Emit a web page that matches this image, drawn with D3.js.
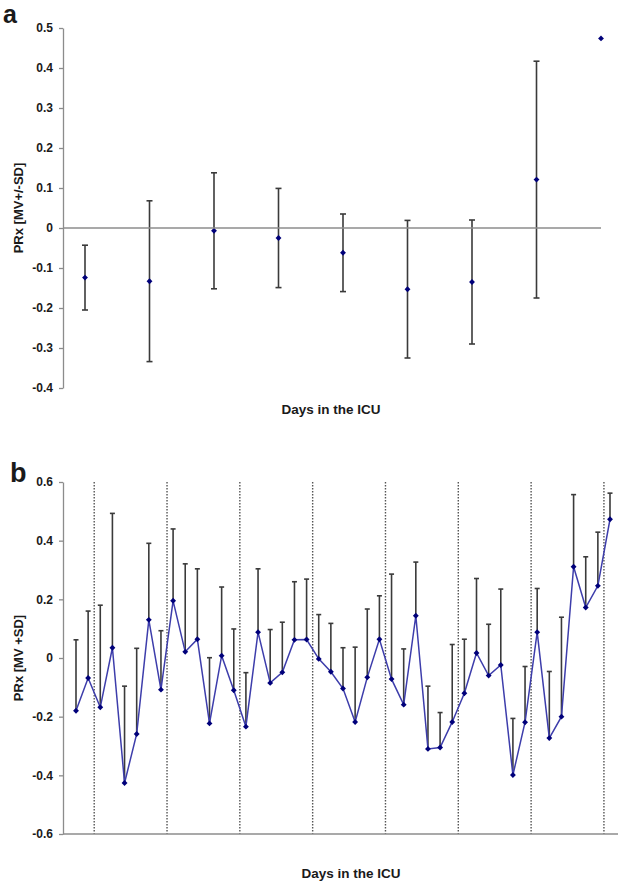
<!DOCTYPE html>
<html>
<head>
<meta charset="utf-8">
<script src="https://cdn.jsdelivr.net/npm/d3@7"></script>
<style>
  html, body { margin: 0; padding: 0; background: #fff; }
  svg { display: block; }
  text { font-family: "Liberation Sans", Arial, sans-serif; font-weight: bold; fill: #1a1a1a; }
</style>
</head>
<body>
<svg id="chart" width="618" height="882"></svg>
<script>
// Panel a: mean PRx per ICU day, with +/- SD (last day has no SD)
const aDays  = [1, 2, 3, 4, 5, 6, 7, 8, 9];
const aMean  = [-0.124, -0.133, -0.007, -0.025, -0.062, -0.153, -0.135, 0.121, 0.474];
const aSD    = [0.081, 0.201, 0.145, 0.124, 0.097, 0.172, 0.155, 0.296, null];
const aTicks = [0.5, 0.4, 0.3, 0.2, 0.1, 0, -0.1, -0.2, -0.3, -0.4];

// Panel b: PRx per measurement (6 per day), mean with +SD
const bMean = [
  -0.180, -0.068, -0.168, 0.035, -0.426, -0.259, 0.130, -0.108, 0.195, 0.021,
   0.064, -0.223, 0.008, -0.110, -0.234, 0.088, -0.085, -0.049, 0.062, 0.063,
  -0.003, -0.047, -0.104, -0.218, -0.066, 0.064, -0.072, -0.159, 0.144, -0.310,
  -0.305, -0.218, -0.120, 0.017, -0.060, -0.024, -0.399, -0.219, 0.088, -0.273,
  -0.200, 0.311, 0.172, 0.246, 0.473
];
const bSD = [
  0.242, 0.228, 0.348, 0.458, 0.330, 0.292, 0.261, 0.201, 0.245, 0.300,
  0.240, 0.224, 0.234, 0.209, 0.184, 0.216, 0.182, 0.171, 0.198, 0.206,
  0.151, 0.165, 0.139, 0.255, 0.233, 0.148, 0.358, 0.190, 0.183, 0.214,
  0.119, 0.264, 0.184, 0.254, 0.175, 0.259, 0.193, 0.190, 0.149, 0.227,
  0.339, 0.246, 0.173, 0.183, 0.089
];
const bTicks = [0.6, 0.4, 0.2, 0, -0.2, -0.4, -0.6];
// day boundaries sit between measurements (index positions)
const bDayBreaks = [1.5, 7.5, 13.5, 19.5, 25.5, 31.5, 37.5, 43.5];

const AXIS_COLOR = '#8c8c8c';
const BAR_COLOR  = '#3a3a3a';
const DOT_COLOR  = '#00007a';
const LINE_COLOR = '#3d3dab';

const svg = d3.select('#chart');
const fmt = d => d === 0 ? '0' : String(+d.toFixed(1));
const diamond = d3.symbol().type(d3.symbolDiamond2).size(22);

function yAxis(g, scale, ticks) {
  g.call(d3.axisLeft(scale).tickValues(ticks).tickFormat(fmt).tickSize(4).tickPadding(6).tickSizeOuter(0));
  g.select('.domain').attr('stroke', AXIS_COLOR).attr('stroke-width', 1.3);
  g.selectAll('.tick line').attr('stroke', AXIS_COLOR).attr('stroke-width', 1.3);
  g.selectAll('.tick text').attr('font-size', 12).attr('fill', '#1a1a1a')
    .attr('font-family', '"Liberation Sans", Arial, sans-serif').attr('font-weight', 'bold');
}

// ── Panel a ─────────────────────────────────────────────────────────────────
const axA = d3.scaleLinear().domain([0, 8]).range([85, 601]);
const ayA = d3.scaleLinear().domain([-0.4, 0.5]).range([388, 28]);
const gA = svg.append('g');

svg.append('line')
  .attr('x1', 63).attr('x2', axA(8)).attr('y1', ayA(0)).attr('y2', ayA(0))
  .attr('stroke', AXIS_COLOR).attr('stroke-width', 1.3);

gA.append('g').attr('transform', 'translate(63,0)').call(yAxis, ayA, aTicks);

const aData = aDays.map((d, i) => ({ i, mean: aMean[i], sd: aSD[i] }));
const aBars = gA.selectAll('g.bar').data(aData.filter(d => d.sd != null)).join('g').attr('class', 'bar');
aBars.append('line')
  .attr('x1', d => axA(d.i)).attr('x2', d => axA(d.i))
  .attr('y1', d => ayA(d.mean + d.sd)).attr('y2', d => ayA(d.mean - d.sd))
  .attr('stroke', BAR_COLOR).attr('stroke-width', 1.6);
[1, -1].forEach(s => {
  aBars.append('line')
    .attr('x1', d => axA(d.i) - 3).attr('x2', d => axA(d.i) + 3)
    .attr('y1', d => ayA(d.mean + s * d.sd)).attr('y2', d => ayA(d.mean + s * d.sd))
    .attr('stroke', BAR_COLOR).attr('stroke-width', 1.6);
});
gA.selectAll('path.pt').data(aData).join('path').attr('class', 'pt')
  .attr('d', diamond)
  .attr('transform', d => `translate(${axA(d.i)},${ayA(d.mean)})`)
  .attr('fill', DOT_COLOR);

svg.append('text').attr('x', 3).attr('y', 23).attr('font-size', 25).text('a');
svg.append('text')
  .attr('transform', `translate(23,${ayA(0.05)}) rotate(-90)`)
  .attr('text-anchor', 'middle').attr('font-size', 13).text('PRx [MV+/-SD]');
svg.append('text').attr('x', 331).attr('y', 414).attr('text-anchor', 'middle')
  .attr('font-size', 13.5).text('Days in the ICU');

// ── Panel b ─────────────────────────────────────────────────────────────────
const axB = d3.scaleLinear().domain([0, 44]).range([76, 610]);
const ayB = d3.scaleLinear().domain([-0.6, 0.6]).range([834, 482]);
const gB = svg.append('g');

gB.selectAll('line.day').data(bDayBreaks).join('line').attr('class', 'day')
  .attr('x1', d => axB(d)).attr('x2', d => axB(d))
  .attr('y1', ayB(0.6)).attr('y2', ayB(-0.6))
  .attr('stroke', '#555').attr('stroke-width', 1.4).attr('stroke-dasharray', '1.5,1.5');

gB.append('line')
  .attr('x1', 63).attr('x2', 618).attr('y1', ayB(-0.6)).attr('y2', ayB(-0.6))
  .attr('stroke', AXIS_COLOR).attr('stroke-width', 1.3);
gB.append('g').attr('transform', 'translate(63,0)').call(yAxis, ayB, bTicks);

const bData = bMean.map((m, i) => ({ i, mean: m, sd: bSD[i] }));
const bBars = gB.selectAll('g.bar').data(bData).join('g').attr('class', 'bar');
bBars.append('line')
  .attr('x1', d => axB(d.i)).attr('x2', d => axB(d.i))
  .attr('y1', d => ayB(d.mean + d.sd)).attr('y2', d => ayB(d.mean))
  .attr('stroke', BAR_COLOR).attr('stroke-width', 1.6);
bBars.append('line')
  .attr('x1', d => axB(d.i) - 2.5).attr('x2', d => axB(d.i) + 2.5)
  .attr('y1', d => ayB(d.mean + d.sd)).attr('y2', d => ayB(d.mean + d.sd))
  .attr('stroke', BAR_COLOR).attr('stroke-width', 1.6);

gB.append('path').datum(bData)
  .attr('d', d3.line().x(d => axB(d.i)).y(d => ayB(d.mean)))
  .attr('fill', 'none').attr('stroke', LINE_COLOR).attr('stroke-width', 1.5);

gB.selectAll('path.pt').data(bData).join('path').attr('class', 'pt')
  .attr('d', diamond)
  .attr('transform', d => `translate(${axB(d.i)},${ayB(d.mean)})`)
  .attr('fill', DOT_COLOR);

svg.append('text').attr('x', 10).attr('y', 482).attr('font-size', 27).text('b');
svg.append('text')
  .attr('transform', `translate(23,${ayB(0)}) rotate(-90)`)
  .attr('text-anchor', 'middle').attr('font-size', 13).text('PRx [MV +SD]');
svg.append('text').attr('x', 351).attr('y', 878).attr('text-anchor', 'middle')
  .attr('font-size', 13.5).text('Days in the ICU');
</script>
</body>
</html>
